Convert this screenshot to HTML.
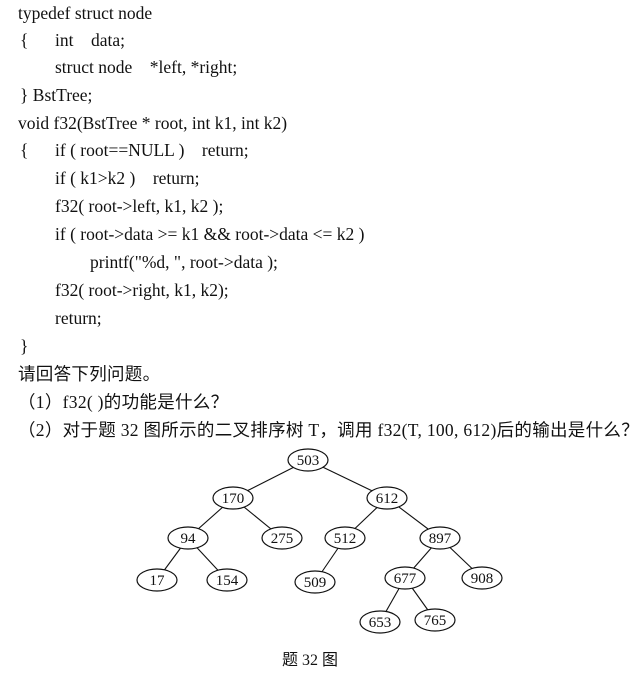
<!DOCTYPE html>
<html><head><meta charset="utf-8"><style>
body{margin:0;background:#fff;width:643px;height:673px;overflow:hidden;position:relative;font-family:"Liberation Serif","Noto Serif CJK SC",serif;color:#111}
.l{position:absolute;font-size:17.5px;line-height:20px;white-space:pre}
.cn{font-family:"Liberation Serif","Noto Sans CJK SC",sans-serif;font-size:17.5px;letter-spacing:0.3px}
svg{position:absolute;left:0;top:0}
</style></head><body>
<div class="l" style="left:18px;top:3px">typedef struct node</div>
<div class="l" style="left:20px;top:30px">{</div><div class="l" style="left:55px;top:30px">int    data;</div>
<div class="l" style="left:55px;top:57px">struct node    *left, *right;</div>
<div class="l" style="left:20px;top:85px">} BstTree;</div>
<div class="l" style="left:18px;top:113px">void f32(BstTree * root, int k1, int k2)</div>
<div class="l" style="left:20px;top:140px">{</div><div class="l" style="left:55px;top:140px">if ( root==NULL )    return;</div>
<div class="l" style="left:55px;top:168px">if ( k1&gt;k2 )    return;</div>
<div class="l" style="left:55px;top:196px">f32( root-&gt;left, k1, k2 );</div>
<div class="l" style="left:55px;top:224px">if ( root-&gt;data &gt;= k1 &amp;&amp; root-&gt;data &lt;= k2 )</div>
<div class="l" style="left:90px;top:252px">printf("%d, ", root-&gt;data );</div>
<div class="l" style="left:55px;top:280px">f32( root-&gt;right, k1, k2);</div>
<div class="l" style="left:55px;top:308px">return;</div>
<div class="l" style="left:20px;top:336px">}</div>
<div class="l cn" style="left:18px;top:364px">请回答下列问题。</div>
<div class="l cn" style="left:18px;top:392px">（1）f32( )的功能是什么？</div>
<div class="l cn" style="left:18px;top:420px">（2）对于题 32 图所示的二叉排序树 T，调用 f32(T, 100, 612)后的输出是什么？</div>
<svg width="643" height="673" viewBox="0 0 643 673">
<g stroke="#111" stroke-width="1.1" fill="none">
<line x1="308" y1="460" x2="233" y2="498"/><line x1="308" y1="460" x2="387" y2="498"/>
<line x1="233" y1="498" x2="188" y2="538"/><line x1="233" y1="498" x2="282" y2="538"/>
<line x1="387" y1="498" x2="345" y2="538"/><line x1="387" y1="498" x2="440" y2="538"/>
<line x1="188" y1="538" x2="157" y2="580"/><line x1="188" y1="538" x2="227" y2="580"/>
<line x1="345" y1="538" x2="315" y2="582"/>
<line x1="440" y1="538" x2="405" y2="578"/><line x1="440" y1="538" x2="482" y2="578"/>
<line x1="405" y1="578" x2="380" y2="622"/><line x1="405" y1="578" x2="435" y2="620"/>
</g>
<g stroke="#111" stroke-width="1.2" fill="#fff">
<ellipse cx="308" cy="460" rx="20" ry="11"/><ellipse cx="233" cy="498" rx="20" ry="11"/><ellipse cx="387" cy="498" rx="20" ry="11"/>
<ellipse cx="188" cy="538" rx="20" ry="11"/><ellipse cx="282" cy="538" rx="20" ry="11"/><ellipse cx="345" cy="538" rx="20" ry="11"/><ellipse cx="440" cy="538" rx="20" ry="11"/>
<ellipse cx="157" cy="580" rx="20" ry="11"/><ellipse cx="227" cy="580" rx="20" ry="11"/><ellipse cx="315" cy="582" rx="20" ry="11"/><ellipse cx="405" cy="578" rx="20" ry="11"/><ellipse cx="482" cy="578" rx="20" ry="11"/>
<ellipse cx="380" cy="622" rx="20" ry="11"/><ellipse cx="435" cy="620" rx="20" ry="11"/>
</g>
<g font-family="Liberation Serif,serif" font-size="15" fill="#111" text-anchor="middle">
<text x="308" y="465">503</text><text x="233" y="503">170</text><text x="387" y="503">612</text>
<text x="188" y="543">94</text><text x="282" y="543">275</text><text x="345" y="543">512</text><text x="440" y="543">897</text>
<text x="157" y="585">17</text><text x="227" y="585">154</text><text x="315" y="587">509</text><text x="405" y="583">677</text><text x="482" y="583">908</text>
<text x="380" y="627">653</text><text x="435" y="625">765</text>
<text x="310" y="665" font-family="Liberation Serif,Noto Sans CJK SC,sans-serif" font-size="16">题 32 图</text>
</g>
</svg>
</body></html>
